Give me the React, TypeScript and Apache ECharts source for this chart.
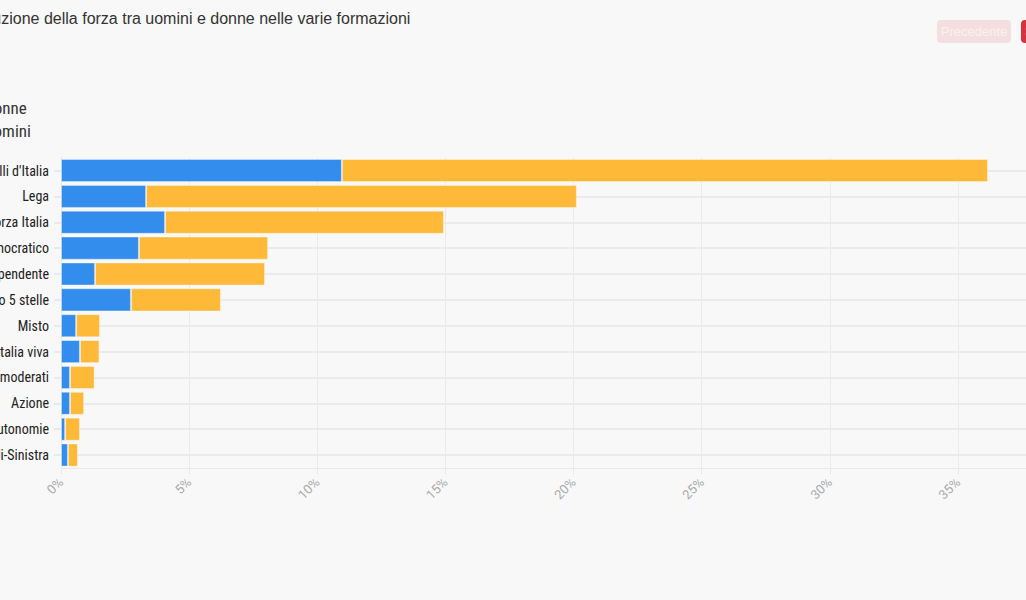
import React, { useEffect, useRef } from "react";
import * as echarts from "echarts";

const titleText = "Distribuzione della forza tra uomini e donne nelle varie formazioni";
const categories = [
  "Fratelli d'Italia",
  "Lega",
  "Forza Italia",
  "Partito democratico",
  "Indipendente",
  "Movimento 5 stelle",
  "Misto",
  "Italia viva",
  "Noi moderati",
  "Azione",
  "Per le autonomie",
  "Alleanza Verdi-Sinistra",
];
const donne = [10.96, 3.32, 4.06, 3.04, 1.33, 2.73, 0.59, 0.74, 0.35, 0.35, 0.16, 0.27];
const uomini = [25.21, 16.81, 10.88, 5.04, 6.63, 3.51, 0.93, 0.76, 0.96, 0.55, 0.58, 0.39];
const seriesNames = ["Donne", "Uomini"];
const xMin = 0;
const xMax = 40;
const xInterval = 5;

const condensed = "'Roboto Condensed', 'Liberation Sans Narrow', 'DejaVu Sans Condensed', Roboto, sans-serif";

export default function App() {
  const ref = useRef<HTMLDivElement>(null);
  useEffect(() => {
    document.body.style.margin = "0";
    document.body.style.background = "#f8f8f8";
    const chart = echarts.init(ref.current!, null, { renderer: "svg" });
    chart.setOption({
      animation: false,
      backgroundColor: "#f8f8f8",
      title: {
        text: titleText,
        left: -58,
        top: 5,
        textStyle: { fontSize: 16, fontWeight: "normal", color: "#333", fontFamily: "'Liberation Sans', Arial, sans-serif" },
      },
      legend: {
        orient: "vertical",
        left: -47,
        top: 94,
        itemWidth: 20,
        itemHeight: 14,
        itemGap: 6,
        data: seriesNames,
        textStyle: { fontSize: 17, color: "#333", fontFamily: condensed },
      },
      graphic: [
        {
          type: "group",
          children: [
            { type: "rect", shape: { x: 937, y: 20, width: 74, height: 23, r: 4 }, style: { fill: "#f4dfe0" } },
            { type: "text", x: 974, y: 31.5, style: { text: "Precedente", fill: "#fbf0f0", fontSize: 13, fontFamily: "'Liberation Sans', Arial, sans-serif", align: "center", verticalAlign: "middle" } },
            { type: "rect", shape: { x: 1021, y: 20, width: 74, height: 23, r: 4 }, style: { fill: "#d5333f" } },
            { type: "text", x: 1058, y: 31.5, style: { text: "Successivo", fill: "#fff", fontSize: 13, fontFamily: "'Liberation Sans', Arial, sans-serif", align: "center", verticalAlign: "middle" } },
          ],
        },
      ],
      color: ["#338ded", "#ffb938"],
      grid: { left: 61, top: 157.6, width: 1025.1, height: 310.4, containLabel: false, outerBoundsMode: "none" },
      xAxis: {
        type: "value",
        min: xMin,
        max: xMax,
        interval: xInterval,
        axisLine: { show: true, lineStyle: { color: "#eaeaea", width: 1 } },
        axisTick: { show: true, length: 7, lineStyle: { color: "#eaeaea" } },
        splitLine: { show: true, lineStyle: { color: "#eaeaea", width: 1 } },
        axisLabel: {
          formatter: "{value}%",
          rotate: 45,
          color: "#aaa",
          fontSize: 13,
          margin: 12,
          fontFamily: "Roboto, sans-serif",
        },
      },
      yAxis: {
        type: "category",
        data: categories,
        inverse: true,
        axisLine: { show: true, lineStyle: { color: "#eaeaea" } },
        axisTick: { show: true, alignWithLabel: true, length: 7, lineStyle: { color: "#eaeaea", width: 2 } },
        splitLine: { show: true, alignWithLabel: true, lineStyle: { color: "#ebebeb", width: 2 } },
        axisLabel: { color: "#222", fontSize: 14, margin: 12, fontFamily: condensed },
      },
      series: [
        {
          name: seriesNames[0],
          type: "bar",
          stack: "tot",
          data: donne,
          barCategoryGap: "11%",
          itemStyle: { borderColor: "rgba(255,255,255,0.35)", borderWidth: 1 },
        },
        {
          name: seriesNames[1],
          type: "bar",
          stack: "tot",
          data: uomini,
          barCategoryGap: "11%",
          itemStyle: { borderColor: "rgba(255,255,255,0.35)", borderWidth: 1 },
        },
      ],
    });
    return () => chart.dispose();
  }, []);
  return <div ref={ref} style={{ width: 1026, height: 600 }} />;
}
